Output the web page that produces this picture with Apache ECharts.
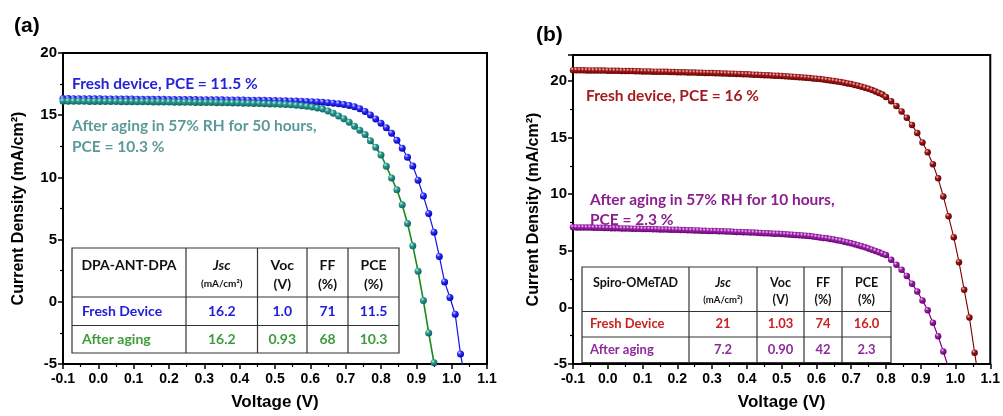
<!DOCTYPE html>
<html>
<head>
<meta charset="utf-8">
<script src="https://cdn.jsdelivr.net/npm/echarts@6/dist/echarts.min.js"></script>
<style>html,body{margin:0;padding:0;background:#fff;}#c{width:1003px;height:416px;}</style>
</head>
<body>
<div id="c"></div>
<script>
// ---------- Panel (a) data ----------
const voltA = [-0.1,-0.085,-0.07,-0.055,-0.04,-0.025,-0.01,0.005,0.02,0.035,
0.05,0.065,0.08,0.095,0.11,0.125,0.14,0.155,0.17,0.185,
0.2,0.215,0.23,0.245,0.26,0.275,0.29,0.305,0.32,0.335,
0.35,0.365,0.38,0.395,0.41,0.425,0.44,0.455,0.47,0.485,
0.5,0.515,0.53,0.545,0.56,0.575,0.59,0.605,0.62,0.635,
0.65,0.665,0.68,0.695,0.71,0.725,0.74,0.755,0.77,0.785,
0.8,0.815,0.83,0.845,0.86,0.875,0.89,0.905,0.92,0.935,
0.95,0.965,0.98,0.995,1.01,1.025,1.04];
const freshA = [16.34,16.34,16.33,16.33,16.33,16.32,16.32,16.32,16.31,16.31,
16.31,16.30,16.30,16.30,16.29,16.29,16.29,16.28,16.28,16.28,
16.27,16.27,16.27,16.26,16.26,16.26,16.25,16.25,16.25,16.24,
16.24,16.23,16.23,16.22,16.22,16.21,16.21,16.20,16.20,16.19,
16.18,16.17,16.16,16.15,16.14,16.13,16.11,16.09,16.07,16.04,
16.01,15.97,15.92,15.86,15.78,15.68,15.52,15.30,15.02,14.70,
14.36,14.0,13.55,12.98,12.35,11.62,10.92,9.78,8.5,7.1,
5.6,3.65,1.6,0.35,-1.0,-4.2,-6.5];
const agedA = [16.13,16.13,16.12,16.12,16.12,16.11,16.11,16.11,16.10,16.10,
16.10,16.09,16.09,16.09,16.08,16.08,16.08,16.07,16.07,16.06,
16.06,16.05,16.05,16.04,16.04,16.03,16.03,16.02,16.02,16.01,
16.00,16.00,15.99,15.98,15.97,15.96,15.95,15.94,15.93,15.91,
15.90,15.88,15.86,15.83,15.80,15.76,15.71,15.65,15.58,15.49,
15.33,15.15,14.93,14.72,14.43,14.12,13.80,13.45,12.95,12.42,
11.8,10.9,9.95,9.0,7.8,6.3,4.5,2.45,0.1,-2.5,
-4.9,-7.3];

// ---------- Panel (b) data ----------
const voltB = [-0.10,-0.09,-0.08,-0.07,-0.06,-0.05,-0.04,-0.03,-0.02,-0.01,
0.00,0.01,0.02,0.03,0.04,0.05,0.06,0.07,0.08,0.09,
0.10,0.11,0.12,0.13,0.14,0.15,0.16,0.17,0.18,0.19,
0.20,0.21,0.22,0.23,0.24,0.25,0.26,0.27,0.28,0.29,
0.30,0.31,0.32,0.33,0.34,0.35,0.36,0.37,0.38,0.39,
0.40,0.41,0.42,0.43,0.44,0.45,0.46,0.47,0.48,0.49,
0.50,0.51,0.52,0.53,0.54,0.55,0.56,0.57,0.58,0.59,
0.60,0.61,0.62,0.63,0.64,0.65,0.66,0.67,0.68,0.69,
0.70,0.71,0.72,0.73,0.74,0.75,0.76,0.77,0.78,0.79,
0.80,0.815,0.83,0.845,0.86,0.875,0.89,0.905,0.92,0.935,
0.95,0.965,0.98,0.995,1.01,1.025,1.04,1.055,1.07];
const freshB = [20.96,20.96,20.95,20.95,20.94,20.94,20.93,20.93,20.92,20.92,
20.91,20.91,20.90,20.90,20.89,20.89,20.88,20.88,20.87,20.86,
20.85,20.85,20.84,20.83,20.83,20.82,20.81,20.81,20.80,20.79,
20.78,20.78,20.77,20.76,20.75,20.75,20.74,20.73,20.72,20.71,
20.70,20.69,20.68,20.67,20.66,20.65,20.64,20.63,20.62,20.60,
20.59,20.58,20.56,20.55,20.54,20.52,20.51,20.49,20.47,20.46,
20.44,20.42,20.40,20.38,20.36,20.34,20.31,20.29,20.26,20.23,
20.20,20.17,20.13,20.09,20.05,20.01,19.96,19.91,19.85,19.79,
19.73,19.66,19.58,19.50,19.41,19.31,19.20,19.08,18.95,18.81,
18.60,18.22,17.8,17.3,16.75,16.12,15.4,14.58,13.7,12.65,
11.4,9.8,8.05,6.2,4.0,1.55,-0.9,-4.0,-7.0];
const agedB = [7.08,7.07,7.07,7.06,7.05,7.05,7.04,7.03,7.03,7.02,
7.01,7.00,7.00,6.99,6.98,6.97,6.97,6.96,6.95,6.94,
6.93,6.93,6.92,6.91,6.90,6.89,6.88,6.88,6.87,6.86,
6.85,6.84,6.83,6.82,6.81,6.80,6.79,6.78,6.77,6.76,
6.75,6.74,6.73,6.72,6.71,6.70,6.68,6.67,6.66,6.65,
6.63,6.62,6.61,6.59,6.58,6.56,6.55,6.53,6.51,6.50,
6.48,6.46,6.44,6.42,6.40,6.37,6.35,6.33,6.30,6.27,
6.22,6.18,6.14,6.10,6.05,6.00,5.94,5.88,5.81,5.74,
5.66,5.58,5.50,5.41,5.31,5.21,5.10,4.99,4.87,4.75,
4.62,4.2,3.77,3.32,2.78,2.1,1.4,0.62,-0.25,-1.35,
-2.55,-3.9,-5.35];

// ---------- Tables & labels ----------
const tableAHead = ['DPA-ANT-DPA', 'Jsc', 'Voc', 'FF', 'PCE'];
const tableAUnits = ['', '(mA/cm²)', '(V)', '(%)', '(%)'];
const tableARows = [['Fresh Device','16.2','1.0','71','11.5'], ['After aging','16.2','0.93','68','10.3']];
const tableBHead = ['Spiro-OMeTAD', 'Jsc', 'Voc', 'FF', 'PCE'];
const tableBUnits = ['', '(mA/cm²)', '(V)', '(%)', '(%)'];
const tableBRows = [['Fresh Device','21','1.03','74','16.0'], ['After aging','7.2','0.90','42','2.3']];
const noteA = ['Fresh device, PCE = 11.5 %', 'After aging in 57% RH for 50 hours,', 'PCE = 10.3 %'];
const noteB = ['Fresh device, PCE = 16 %', 'After aging in 57% RH for 10 hours,', 'PCE = 2.3 %'];
const xTickMin = -0.1, xTickMax = 1.1, xTickStep = 0.1;
const yA = [-5, 20, 5], yB = [-5, 22.3, 5];

function pairs(v, j) { return j.map((y, i) => [v[i], y]); }
function ball(c0, c1, c2) {
  return { type: 'radial', x: 0.35, y: 0.3, r: 0.75,
    colorStops: [{offset: 0, color: c0}, {offset: 0.35, color: c1}, {offset: 1, color: c2}] };
}

const TF = 'Lato, "Open Sans", sans-serif';
function txt(x, y, s, font, fill, align) {
  return { type: 'text', x: x, y: y, silent: true, z: 100,
    style: { text: s, font: font, fill: fill, align: align || 'left', verticalAlign: 'middle',
             textAlign: align || 'left', textVerticalAlign: 'middle' } };
}
function hline(x1, x2, y) { return { type: 'line', z: 99, silent: true, shape: {x1: x1, y1: y, x2: x2, y2: y}, style: {stroke: '#333', lineWidth: 1.2} }; }
function vline(x, y1, y2) { return { type: 'line', z: 99, silent: true, shape: {x1: x, y1: y1, x2: x, y2: y2}, style: {stroke: '#333', lineWidth: 1.2} }; }

function table(cols, rows3, head, units, rows, colors, hf, uf, bf, labelX) {
  const els = [];
  const L = cols[0], R = cols[cols.length - 1], T = rows3[0], B = rows3[3];
  els.push({ type: 'rect', z: 98, silent: true, shape: {x: L, y: T, width: R - L, height: B - T}, style: {fill: '#fff', stroke: '#333', lineWidth: 1.2} });
  for (let i = 1; i < cols.length - 1; i++) els.push(vline(cols[i], T, B));
  els.push(hline(L, R, rows3[1]));
  els.push(hline(L, R, rows3[2]));
  const h1 = T + (rows3[1] - T) * 0.36, h2 = T + (rows3[1] - T) * 0.74;
  for (let c = 0; c < head.length; c++) {
    const cx = (cols[c] + cols[c + 1]) / 2;
    if (c === 0) { els.push(txt(cx, h1, head[c], hf, '#111', 'center')); continue; }
    els.push(txt(cx, h1, head[c], (c === 1 ? 'italic ' : '') + hf, '#111', 'center'));
    els.push(txt(cx, h2, units[c], c === 1 ? uf.small : uf.normal, '#111', 'center'));
  }
  for (let r = 0; r < rows.length; r++) {
    const cy = (rows3[r + 1] + rows3[r + 2]) / 2;
    for (let c = 0; c < rows[r].length; c++) {
      const cx = (cols[c] + cols[c + 1]) / 2;
      if (c === 0) els.push(txt(labelX, cy, rows[r][c], bf, colors[r], 'left'));
      else els.push(txt(cx, cy, rows[r][c], bf, colors[r], 'center'));
    }
  }
  return els;
}

const axisFont = { fontFamily: 'Arial, "Liberation Sans", sans-serif', fontWeight: 'bold', fontSize: 14, color: '#000' };
function xAxisDef(gi) {
  return { type: 'value', gridIndex: gi, min: xTickMin, max: xTickMax, interval: xTickStep,
    name: 'Voltage (V)', nameLocation: 'middle', nameGap: 30,
    nameTextStyle: { fontFamily: 'Arial, "Liberation Sans", sans-serif', fontWeight: 'bold', fontSize: 17, color: '#000' },
    axisLine: { show: true, onZero: false, lineStyle: { color: '#000', width: 2 } },
    axisTick: { show: true, inside: false, length: 5, lineStyle: { color: '#000', width: 1.5 } },
    minorTick: { show: true, splitNumber: 2, length: 3, lineStyle: { color: '#000', width: 1.2 } },
    splitLine: { show: false }, minorSplitLine: { show: false },
    axisLabel: Object.assign({ margin: 8, formatter: v => (Math.abs(v) < 1e-9 ? 0 : v).toFixed(1) }, axisFont) };
}
function yAxisDef(gi, r, gap) {
  return { type: 'value', gridIndex: gi, min: r[0], max: r[1], interval: r[2],
    name: 'Current Density (mA/cm²)', nameLocation: 'middle', nameGap: gap, nameRotate: 90,
    nameTextStyle: { fontFamily: 'Arial, "Liberation Sans", sans-serif', fontWeight: 'bold', fontSize: 16, color: '#000' },
    axisLine: { show: true, onZero: false, lineStyle: { color: '#000', width: 2 } },
    axisTick: { show: true, inside: false, length: 5, lineStyle: { color: '#000', width: 1.5 } },
    minorTick: { show: true, splitNumber: 2, length: 3, lineStyle: { color: '#000', width: 1.2 } },
    splitLine: { show: false }, minorSplitLine: { show: false },
    axisLabel: Object.assign({ margin: 6, showMaxLabel: true, formatter: v => (Math.abs(v % 5) < 1e-6 ? String(Math.round(v)) : '') }, axisFont, { fontSize: 15 }) };
}
function serie(xi, data, lineColor, lw, fill, size, z) {
  return { type: 'line', xAxisIndex: xi, yAxisIndex: xi, data: data, symbol: 'circle', symbolSize: size,
    showSymbol: true, clip: true, z: z, animation: false, smooth: false,
    lineStyle: { color: lineColor, width: lw }, itemStyle: { color: fill, borderWidth: 0 } };
}

const graphics = [
  txt(14, 26, '(a)', 'bold 21px Arial, "Liberation Sans", sans-serif', '#000', 'left'),
  txt(536, 35, '(b)', 'bold 21px Arial, "Liberation Sans", sans-serif', '#000', 'left'),
  txt(72, 84, noteA[0], 'bold 15.5px ' + TF, '#2323d8', 'left'),
  txt(72, 126, noteA[1], 'bold 15.5px ' + TF, '#5b9a9b', 'left'),
  txt(72, 147, noteA[2], 'bold 15.5px ' + TF, '#5b9a9b', 'left'),
  txt(586, 96, noteB[0], 'bold 15.5px ' + TF, '#a51b1b', 'left'),
  txt(590, 200, noteB[1], 'bold 15.5px ' + TF, '#8a1f8e', 'left'),
  txt(590, 220, noteB[2], 'bold 15.5px ' + TF, '#8a1f8e', 'left')
].concat(
  table([72, 186, 257.5, 307, 348, 399], [248, 297, 325.5, 353], tableAHead, tableAUnits, tableARows,
        ['#2020d8', '#3c9c3c'], 'bold 14px ' + TF, { small: 'bold 10px ' + TF, normal: 'bold 14px ' + TF },
        'bold 14px ' + TF, 82),
  table([582, 689, 757, 804, 842, 891], [267, 311.5, 337, 362.5], tableBHead, tableBUnits, tableBRows,
        ['#cc1f1f', '#8f2a9c'], 'bold 12.5px ' + TF, { small: 'bold 9.5px ' + TF, normal: 'bold 12.5px ' + TF },
        'bold 13px ' + TF, 590)
);

const chart = echarts.init(document.getElementById('c'), null, { renderer: 'canvas' });
chart.setOption({
  animation: false,
  backgroundColor: '#fff',
  grid: [
    { left: 63, top: 53, width: 424, height: 314, show: true, borderColor: '#000', borderWidth: 2, backgroundColor: 'transparent' },
    { left: 573, top: 55, width: 425, height: 312, show: true, borderColor: '#000', borderWidth: 2, backgroundColor: 'transparent' }
  ],
  xAxis: [xAxisDef(0), xAxisDef(1)],
  yAxis: [yAxisDef(0, yA, 36), yAxisDef(1, yB, 31)],
  series: [
    serie(0, pairs(voltA, freshA), '#1010f0', 1.2, ball('#d8d8ff', '#3030ff', '#0000a8'), 7, 3),
    serie(0, pairs(voltA, agedA), '#178a17', 1.6, ball('#c8eeea', '#2a9a92', '#0d5f5a'), 7, 4),
    serie(1, pairs(voltB, freshB), '#7a0000', 1.1, ball('#f0c8c8', '#a01818', '#5a0000'), 6.5, 3),
    serie(1, pairs(voltB, agedB), '#800080', 1.2, ball('#f0c8f4', '#9a20a8', '#5c0066'), 6.5, 4)
  ],
  graphic: graphics
});
</script>
</body>
</html>
